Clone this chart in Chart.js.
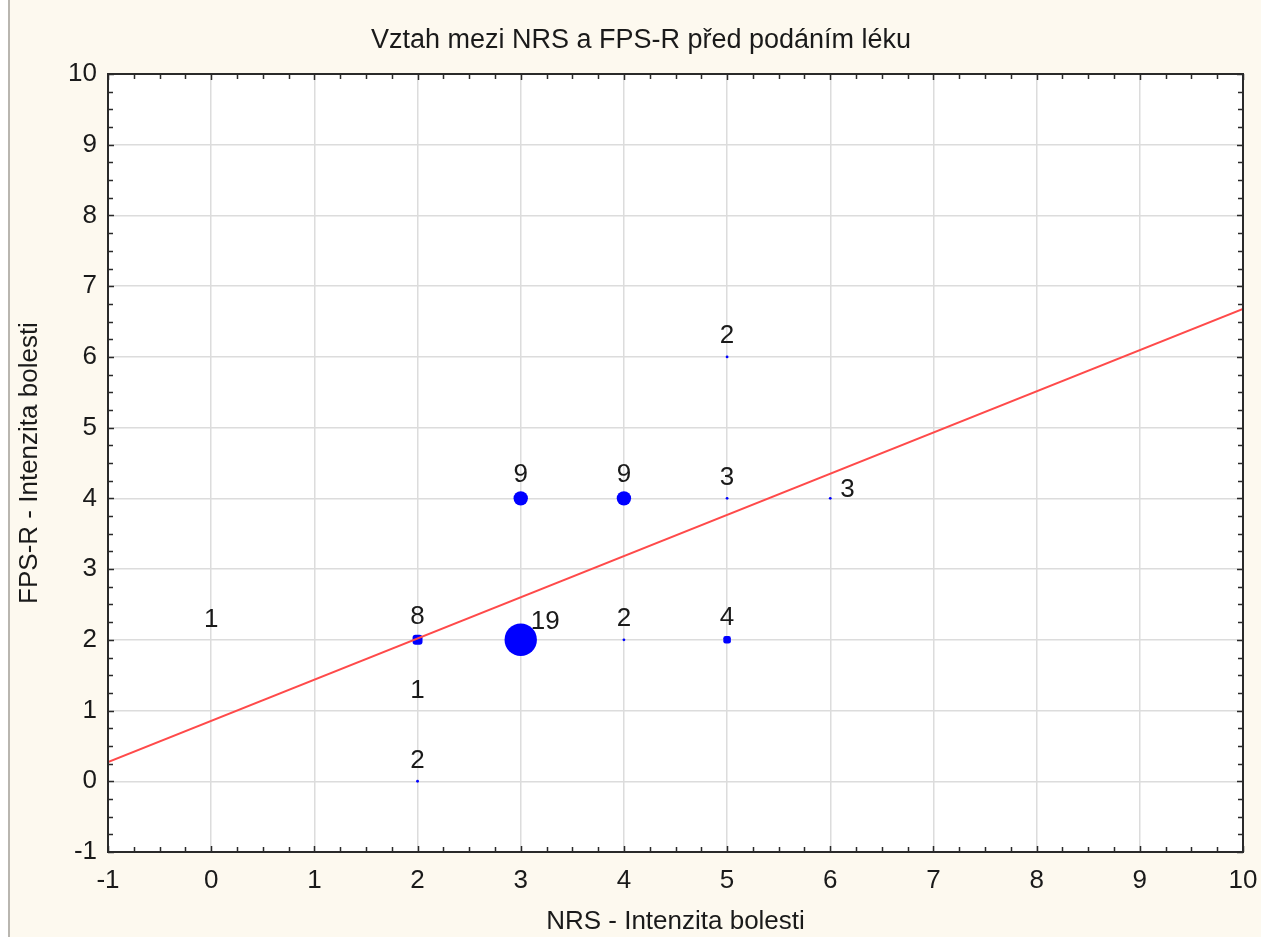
<!DOCTYPE html>
<html>
<head>
<meta charset="utf-8">
<script src="https://cdn.jsdelivr.net/npm/chart.js@4.4.1/dist/chart.umd.min.js"></script>
<style>
  body { margin: 0; background: #fff; }
  canvas { display: block; }
</style>
</head>
<body>
<canvas id="chart" width="1261" height="937"></canvas>
<script>
// observed pairs (NRS, FPS-R) and how many patients sit on each
const nrs    = [0, 2, 2, 2, 3, 4, 5, 3, 4, 5, 6, 5];
const fps    = [2, 0, 1, 2, 2, 2, 2, 4, 4, 4, 4, 6];
const counts = [1, 2, 1, 8, 19, 2, 4, 9, 9, 3, 3, 2];

// linear fit, read at both ends of the x range
const fitX = [-1, 10];
const fitY = [0.27, 6.68];

const chartTitle = 'Vztah mezi NRS a FPS-R před podáním léku';
const xTitle = 'NRS - Intenzita bolesti';
const yTitle = 'FPS-R - Intenzita bolesti';

const FONT = '"Liberation Sans", Arial, sans-serif';
const TEXT = '#1a1a1a';
const FS = 26;

// where the count label goes relative to its marker
const labelSide = counts.map((c, i) => (c === 19 || nrs[i] === 6) ? 'right' : 'top');

const bubbleRadius = (n) => {
    if (n < 2) return 0;
    if (n < 4) return 1.4;
    if (n < 9) return 3 + n * 0.35;
    return (n - 1) * 0.9;
};
const bubbleStyle = (n) => (n >= 4 && n < 9) ? 'rectRounded' : 'circle';

const background = {
    id: 'background',
    beforeDraw(chart) {
        const ctx = chart.ctx;
        ctx.save();
        ctx.fillStyle = '#fdf9ef';
        ctx.fillRect(0, 0, chart.width, chart.height);
        ctx.fillStyle = '#ffffff';
        ctx.fillRect(0, 0, 8, chart.height);
        ctx.fillStyle = '#b9b6b0';
        ctx.fillRect(8, 0, 2, chart.height);
        const a = chart.chartArea;
        ctx.fillStyle = '#ffffff';
        ctx.fillRect(a.left, a.top, a.right - a.left, a.bottom - a.top);
        ctx.restore();
    },
    afterDraw(chart) {
        const ctx = chart.ctx;
        ctx.save();
        ctx.fillStyle = TEXT;
        ctx.font = '27px ' + FONT;
        ctx.textAlign = 'center';
        ctx.textBaseline = 'middle';
        ctx.fillText(chartTitle, 641, 41);
        ctx.restore();
    }
};

// frame + inward major/minor ticks
const frame = {
    id: 'frame',
    afterDatasetsDraw(chart) {
        const ctx = chart.ctx;
        const a = chart.chartArea;
        const xs = chart.scales.x, ys = chart.scales.y;
        ctx.save();
        ctx.strokeStyle = '#2a2a2a';
        ctx.lineWidth = 2;
        ctx.strokeRect(a.left, a.top, a.right - a.left, a.bottom - a.top);
        ctx.lineWidth = 1.5;
        ctx.beginPath();
        for (let v = xs.min; v <= xs.max + 1e-9; v += 0.25) {
            const px = Math.round(xs.getPixelForValue(v)) + 0.5;
            const len = Math.abs(v - Math.round(v)) < 1e-6 ? 6 : 5;
            ctx.moveTo(px, a.bottom); ctx.lineTo(px, a.bottom - len);
            ctx.moveTo(px, a.top); ctx.lineTo(px, a.top + len);
        }
        for (let v = ys.min; v <= ys.max + 1e-9; v += 0.25) {
            const py = Math.round(ys.getPixelForValue(v)) + 0.5;
            const len = Math.abs(v - Math.round(v)) < 1e-6 ? 6 : 5;
            ctx.moveTo(a.left, py); ctx.lineTo(a.left + len, py);
            ctx.moveTo(a.right, py); ctx.lineTo(a.right - len, py);
        }
        ctx.stroke();
        ctx.restore();
    }
};

const pointLabels = {
    id: 'pointLabels',
    afterDraw(chart) {
        const ctx = chart.ctx;
        const meta = chart.getDatasetMeta(0);
        ctx.save();
        ctx.fillStyle = TEXT;
        ctx.font = FS + 'px ' + FONT;
        meta.data.forEach((el, i) => {
            const r = bubbleRadius(counts[i]);
            if (labelSide[i] === 'right') {
                ctx.textAlign = 'left';
                ctx.textBaseline = 'bottom';
                ctx.fillText(String(counts[i]), el.x + 10, counts[i] === 19 ? el.y - 5 : el.y + 4);
            } else {
                ctx.textAlign = 'center';
                ctx.textBaseline = 'bottom';
                ctx.fillText(String(counts[i]), el.x, el.y - 7 - r / 2);
            }
        });
        ctx.restore();
    }
};

new Chart(document.getElementById('chart'), {
    type: 'bubble',
    data: {
        datasets: [
            {
                type: 'bubble',
                data: nrs.map((x, i) => ({ x: x, y: fps[i], r: bubbleRadius(counts[i]) })),
                pointStyle: counts.map(bubbleStyle),
                backgroundColor: '#0000ff',
                borderColor: '#0000ff',
                borderWidth: 0,
                order: 2
            },
            {
                type: 'line',
                data: fitX.map((x, i) => ({ x: x, y: fitY[i] })),
                borderColor: '#ff4a4a',
                borderWidth: 2,
                pointRadius: 0,
                fill: false,
                order: 1
            }
        ]
    },
    options: {
        responsive: false,
        animation: false,
        events: [],
        layout: { padding: { left: 10, right: 18, top: 74, bottom: 0 } },
        plugins: {
            legend: { display: false },
            tooltip: { enabled: false },
            title: { display: false }
        },
        scales: {
            x: {
                type: 'linear',
                min: -1,
                max: 10,
                ticks: { stepSize: 1, color: TEXT, font: { family: FONT, size: FS }, padding: 13 },
                grid: { color: '#dcdcdc', lineWidth: 1.5, drawTicks: false },
                border: { display: false },
                title: { display: true, text: xTitle, color: TEXT, font: { family: FONT, size: FS }, padding: { top: 0, bottom: 0 } },
                afterFit(scale) {
                    scale.height = 85;
                    scale.paddingLeft = 0;
                    scale.paddingRight = 0;
                }
            },
            y: {
                type: 'linear',
                min: -1,
                max: 10,
                ticks: { stepSize: 1, color: TEXT, font: { family: FONT, size: FS }, padding: 11 },
                grid: { color: '#dcdcdc', lineWidth: 1.5, drawTicks: false },
                border: { display: false },
                title: { display: true, text: yTitle, color: TEXT, font: { family: FONT, size: FS }, padding: { top: 4, bottom: 0 } },
                afterFit(scale) {
                    scale.width = 98;
                    scale.paddingTop = 0;
                    scale.paddingBottom = 0;
                }
            }
        }
    },
    plugins: [background, frame, pointLabels]
});
</script>
</body>
</html>
